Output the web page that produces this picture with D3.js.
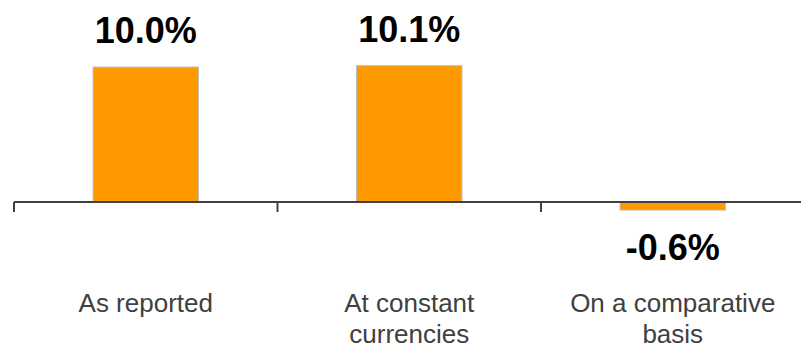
<!DOCTYPE html>
<html>
<head>
<meta charset="utf-8">
<script src="https://cdn.jsdelivr.net/npm/d3@7"></script>
<style>
  body { margin: 0; background: #fff; }
  svg { display: block; }
</style>
</head>
<body>
<div id="chart"></div>
<script>
// Chart data
const categories = ['As reported', 'At constant currencies', 'On a comparative basis'];
const categoryLines = [['As reported'], ['At constant', 'currencies'], ['On a comparative', 'basis']];
const growthValues = [10.0, 10.1, -0.6];
const valueLabels = ['10.0%', '10.1%', '-0.6%'];

const width = 801, height = 347;
const baseY = 202;

const svg = d3.select('#chart')
    .append('svg')
    .attr('width', width)
    .attr('height', height);

const xScale = d3.scaleBand()
    .domain(categories)
    .range([14, 804.5])
    .padding(0);

const yScale = d3.scaleLinear()
    .domain([-0.6, 10.1])
    .range([baseY + 0.6 * 13.5, baseY - 10.1 * 13.5]);

const barW = xScale.bandwidth() * 0.4;

// bars
svg.selectAll('rect.bar')
    .data(growthValues)
    .enter()
    .append('rect')
    .attr('class', 'bar')
    .attr('x', (d, i) => xScale(categories[i]) + (xScale.bandwidth() - barW) / 2)
    .attr('y', d => yScale(Math.max(0, d)))
    .attr('width', barW)
    .attr('height', d => Math.abs(yScale(d) - yScale(0)))
    .attr('fill', '#FF9900')
    .attr('stroke', '#BFBFBF')
    .attr('stroke-width', 1);

// axis line + ticks
svg.append('line')
    .attr('x1', xScale.range()[0]).attr('x2', width)
    .attr('y1', yScale(0)).attr('y2', yScale(0))
    .attr('stroke', '#404040')
    .attr('stroke-width', 2);

svg.selectAll('line.tick')
    .data(categories)
    .enter()
    .append('line')
    .attr('class', 'tick')
    .attr('x1', d => xScale(d)).attr('x2', d => xScale(d))
    .attr('y1', yScale(0)).attr('y2', yScale(0) + 10)
    .attr('stroke', '#404040')
    .attr('stroke-width', 2);

// value labels
svg.selectAll('text.value')
    .data(growthValues)
    .enter()
    .append('text')
    .attr('class', 'value')
    .attr('x', (d, i) => xScale(categories[i]) + xScale.bandwidth() / 2)
    .attr('y', d => d >= 0 ? yScale(d) - 24 : yScale(d) + 50)
    .attr('text-anchor', 'middle')
    .attr('font-family', '"Liberation Sans", Arial, sans-serif')
    .attr('font-weight', 'bold')
    .attr('font-size', 36)
    .attr('fill', '#000')
    .text((d, i) => valueLabels[i]);

// category labels
const catText = svg.selectAll('text.cat')
    .data(categories)
    .enter()
    .append('text')
    .attr('class', 'cat')
    .attr('text-anchor', 'middle')
    .attr('font-family', '"Liberation Sans", Arial, sans-serif')
    .attr('font-size', 26)
    .attr('fill', '#404040');

catText.each(function(d, i) {
    const cx = xScale(d) + xScale.bandwidth() / 2;
    d3.select(this).selectAll('tspan')
        .data(categoryLines[i])
        .enter()
        .append('tspan')
        .attr('x', cx)
        .attr('y', (t, j) => 312 + j * 31)
        .text(t => t);
});
</script>
</body>
</html>
